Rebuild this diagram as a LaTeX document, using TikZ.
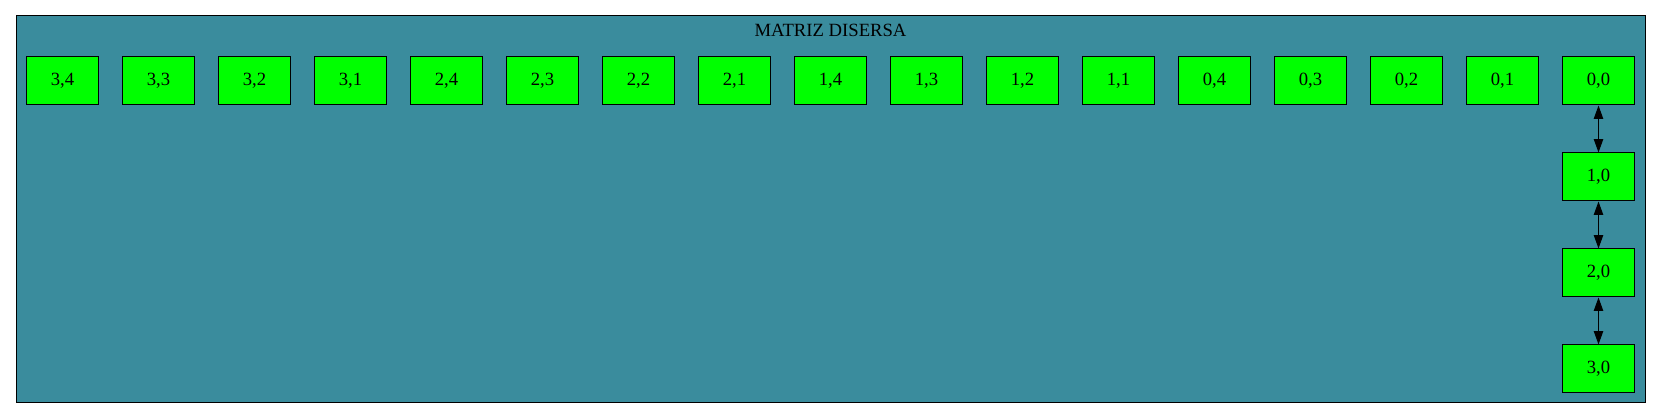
\documentclass[tikz,border=0pt]{standalone}
\usepackage{fontspec}
\setmainfont{Liberation Serif}
\usetikzlibrary{arrows.meta}
\definecolor{clusterfill}{RGB}{58,140,157}
\definecolor{nodegreen}{RGB}{0,255,0}
\tikzset{
  cell/.style={draw=black, fill=nodegreen, line width=0.75pt, minimum width=54pt, minimum height=36pt, inner sep=0pt, font=\fontsize{14pt}{16pt}\selectfont},
  link/.style={line width=0.75pt, {Triangle[length=10pt,width=7pt]}-{Triangle[length=10pt,width=7pt]}}
}
\begin{document}
\begin{tikzpicture}[x=0.75pt,y=-0.75pt]
\useasboundingbox (0,0) rectangle (1661,420);
\draw[fill=clusterfill, line width=0.75pt] (16,16) rectangle (1645,403);
\node[font=\fontsize{14pt}{16pt}\selectfont] (title) at (830.5,30) {MATRIZ DISERSA};
\foreach \lab [count=\i from 0] in {{3,4},{3,3},{3,2},{3,1},{2,4},{2,3},{2,2},{2,1},{1,4},{1,3},{1,2},{1,1},{0,4},{0,3},{0,2},{0,1},{0,0}}{
  \pgfmathsetmacro{\xx}{62.5+96*\i}
  \node[cell] (n\i) at (\xx,81) {\lab};
}
\node[cell] (r1) at (1598.5,177) {1,0};
\node[cell] (r2) at (1598.5,273) {2,0};
\node[cell] (r3) at (1598.5,369) {3,0};
\draw[link] (n16) -- (r1);
\draw[link] (r1) -- (r2);
\draw[link] (r2) -- (r3);
\end{tikzpicture}
\end{document}
